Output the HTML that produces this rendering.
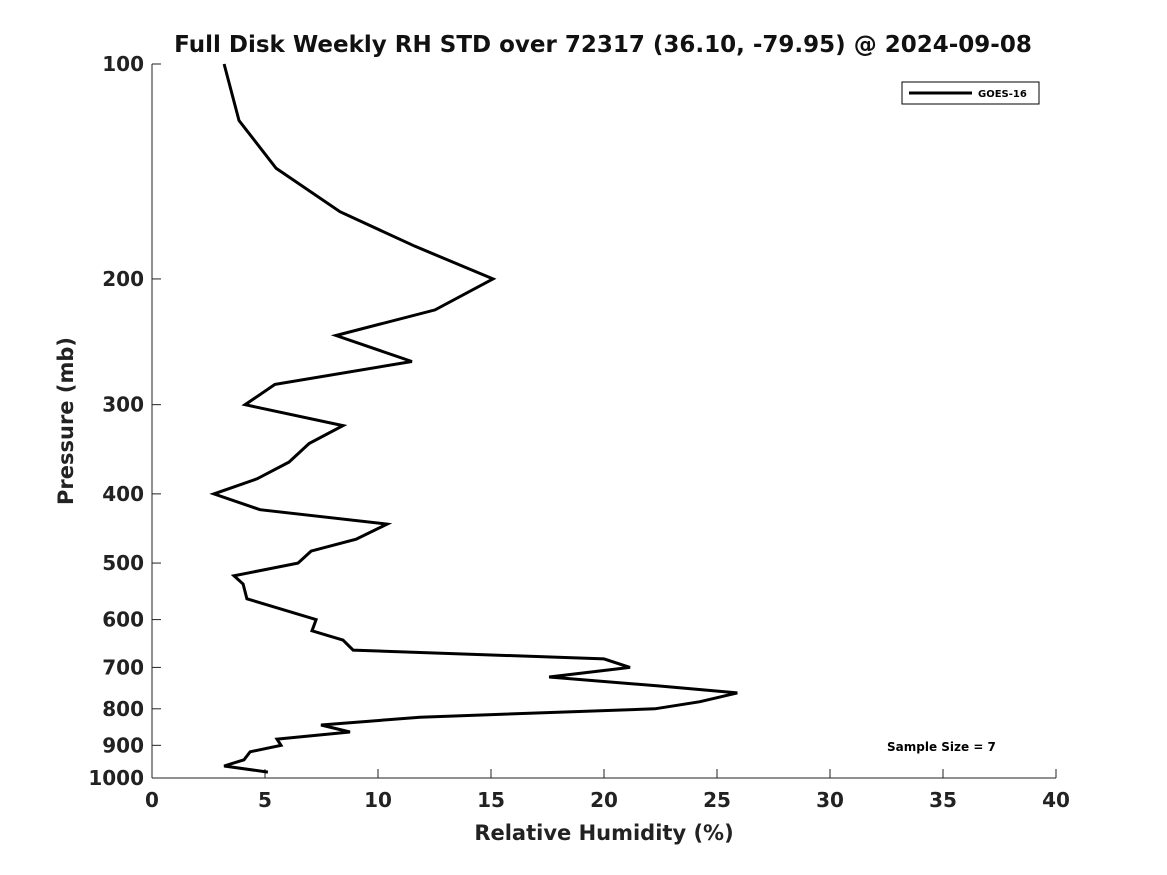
<!DOCTYPE html>
<html><head><meta charset="utf-8"><style>
html,body{margin:0;padding:0;background:#fff;}
svg{display:block;font-family:"DejaVu Sans","Liberation Sans",sans-serif;}
</style></head><body>
<svg id="chart" width="1167" height="875" viewBox="0 0 1167 875" xmlns="http://www.w3.org/2000/svg">
<rect width="1167" height="875" fill="#fff"/>
<text x="603" y="52" text-anchor="middle" font-size="23" font-weight="bold" fill="#111">Full Disk Weekly RH STD over 72317 (36.10, -79.95) @ 2024-09-08</text>
<g id="axes"></g>
<g id="series"></g>
<g>
<rect x="902" y="82" width="137" height="22" fill="#fff" stroke="#000" stroke-width="1"/>
<line x1="909" y1="93" x2="972" y2="93" stroke="#000" stroke-width="3"/>
<text x="978" y="97" font-size="10" font-weight="bold">GOES-16</text>
</g>
<text x="887" y="751" font-size="12" font-weight="bold">Sample Size = 7</text>
<text x="604" y="840" text-anchor="middle" font-size="21" font-weight="bold" fill="#222">Relative Humidity (%)</text>
<text transform="translate(73,421) rotate(-90)" text-anchor="middle" font-size="21" font-weight="bold" fill="#222">Pressure (mb)</text>
</svg>
<script>
const rhValues = [3.19,3.85,5.49,8.32,11.64,15.09,12.52,8.14,11.5,5.44,4.12,8.45,6.95,6.06,4.65,2.74,4.78,10.4,9.03,7.04,6.46,3.63,4.03,4.2,7.26,7.08,8.45,8.9,20.0,21.15,17.57,22.4,25.9,24.25,22.25,11.86,7.48,8.76,5.53,5.71,4.34,4.07,3.19,5.13];
const pressures = [100,120,140,161,180,200,221,240,261,281,300,321,340,361,381,400,421,441,463,481,500,521,535,561,600,622,641,662,681,700,722,743,760,782,800,822,843,862,882,900,919,943,962,981];
const xTicks = [0,5,10,15,20,25,30,35,40];
const yTicks = [100,200,300,400,500,600,700,800,900,1000];
const NS="http://www.w3.org/2000/svg";
const X0=152,X1=1056,Y0=64,Y1=778;
const xs=v=>X0+(v-0)/(40-0)*(X1-X0);
const ys=p=>Y0+Math.log10(p/100)*(Y1-Y0);
const axes=document.getElementById('axes');
function mk(tag,attrs,parent){const e=document.createElementNS(NS,tag);for(const k in attrs)e.setAttribute(k,attrs[k]);parent.appendChild(e);return e;}
const yl=mk('line',{x1:X0,y1:Y0,x2:X0,y2:Y1,stroke:'#222','stroke-width':1},axes);


const xl=mk('line',{x1:X0,y1:Y1,x2:X1,y2:Y1,stroke:'#222','stroke-width':1},axes);


xTicks.forEach(t=>{
  const x=xs(t);
  const tk=mk('line',{x1:x,y1:Y1,x2:x,y2:Y1-9,stroke:'#222'},axes);
  
  
  const tx=mk('text',{x:x,y:Y1+29,'text-anchor':'middle','font-size':20,'font-weight':'bold',fill:'#222'},axes);
  tx.textContent=t;
  
  
});
yTicks.forEach(t=>{
  const y=ys(t);
  const tk=mk('line',{x1:X0,y1:y,x2:X0+9,y2:y,stroke:'#222'},axes);
  
  
  const tx=mk('text',{x:X0-8,y:y+7,'text-anchor':'end','font-size':20,'font-weight':'bold',fill:'#222'},axes);
  tx.textContent=t;
  
  
});
const pts=rhValues.map((v,i)=>xs(v).toFixed(1)+','+ys(pressures[i]).toFixed(1)).join(' ');
const pl=mk('polyline',{points:pts,fill:'none',stroke:'#000','stroke-width':3,'stroke-linejoin':'miter'},document.getElementById('series'));


</script>
</body></html>
